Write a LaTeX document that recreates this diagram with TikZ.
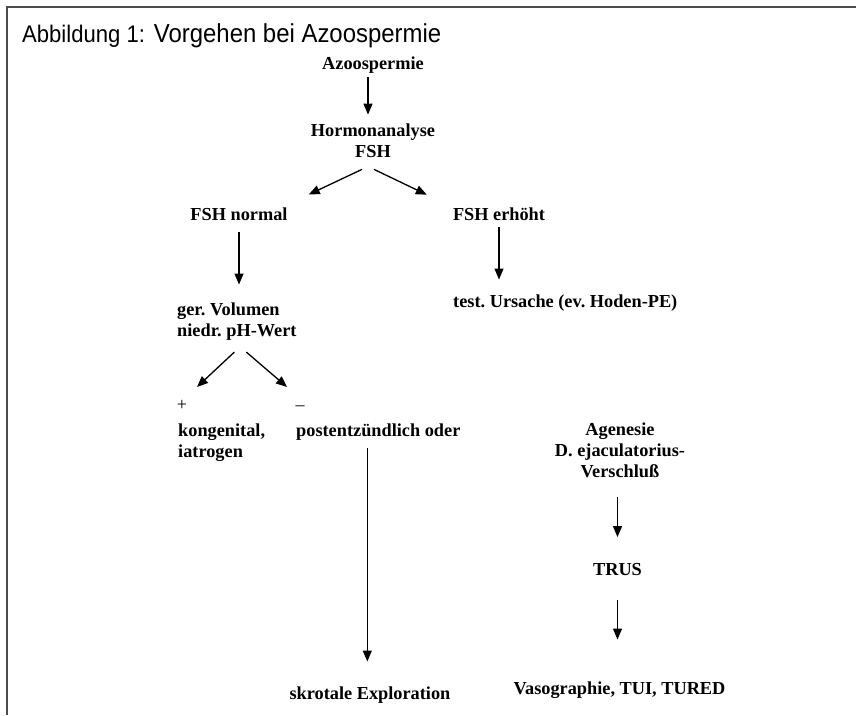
\documentclass[tikz,border=0pt]{standalone}
\usepackage{fontspec}
\setmainfont{Liberation Serif}
\newfontfamily\titelfont[FakeStretch=0.92]{Liberation Sans}
\usetikzlibrary{arrows.meta}
\frenchspacing

\begin{document}
\begin{tikzpicture}[x=1pt,y=-1pt]
\tikzstyle{every node}=[inner sep=0pt,font=\fontsize{18.3}{21}\selectfont\bfseries]
\tikzstyle{zeichen}=[font=\fontsize{18}{20}\selectfont]
\tikzstyle{pfeil}=[line width=1.3pt,-{Triangle[length=11pt,width=9pt]}]
\tikzstyle{rahmen}=[draw=black!70,line width=2pt]
\useasboundingbox (0,0) rectangle (856,715);
\draw[rahmen] (7,715) -- (7,7) -- (856,7);
\draw
  (  22,  42) node [anchor=base west,font=\titelfont] (titel)
     {{\fontsize{24}{26}\selectfont Abbildung 1:}\hspace{9pt}{\fontsize{26}{28}\selectfont Vorgehen bei Azoospermie}}
  ( 373,  69) node [anchor=base]                  (azo)   {Azoospermie}
  ( 373,157.5) node [anchor=base,align=center]    (horm)  {Hormonanalyse\\FSH}
  ( 239, 220) node [anchor=base]                  (fnorm) {FSH normal}
  ( 499, 220) node [anchor=base]                  (ferh)  {FSH erhöht}
  ( 177, 336) node [anchor=base west,align=left]  (vol)   {ger. Volumen\\niedr. pH-Wert}
  ( 453, 307) node [anchor=base west]             (test)  {test. Ursache (ev. Hoden-PE)}
  ( 182,410.5) node [anchor=base,zeichen]         (plus)  {+}
  ( 300,410.5) node [anchor=base,zeichen]         (minus) {–}
  ( 178, 457) node [anchor=base west,align=left]  (kong)  {kongenital,\\iatrogen}
  ( 296, 436) node [anchor=base west]             (post)  {postentzündlich oder}
  ( 370, 699) node [anchor=base]                  (skrot) {skrotale Exploration}
  ( 620, 477) node [anchor=base,align=center]     (agen)  {Agenesie\\D. ejaculatorius-\\Verschluß}
  (617.5,575) node [anchor=base]                  (trus)  {TRUS}
  (619.5,694) node [anchor=base]                  (vaso)  {Vasographie, TUI, TURED}
;
\path[pfeil]
([xshift=-5pt]azo.south) edge [shorten <=4pt,shorten >=9pt] ([xshift=-5pt]horm.north)
([xshift=-11pt,yshift=-11.5pt]horm.south) edge ([xshift=21pt,yshift=12.6pt]fnorm.north east)
([xshift=1pt,yshift=-11.5pt]horm.south)   edge ([xshift=-26pt,yshift=12.4pt]ferh.north west)
(fnorm.south) edge [shorten <=12pt,shorten >=17.6pt] (fnorm.south |- vol.north)
(ferh.south)  edge [shorten <=7pt,shorten >=14.6pt]  (ferh.south |- test.north)
([xshift=-2.5pt,yshift=-12pt]vol.south) edge ([xshift=15pt,yshift=23.5pt]plus.base)
([xshift=9.5pt,yshift=-12pt]vol.south)  edge ([xshift=-13pt,yshift=23.5pt]minus.base)
([xshift=-11pt]post.south) edge [shorten <=8pt,shorten >=24.6pt] ([xshift=-11pt]post.south |- skrot.north)
(trus.north |- agen.south) edge [shorten <=20pt,shorten >=25.6pt] (trus.north)
(trus.south) edge [shorten <=25pt,shorten >=41.6pt] (trus.south |- vaso.north)
;
\end{tikzpicture}
\end{document}
